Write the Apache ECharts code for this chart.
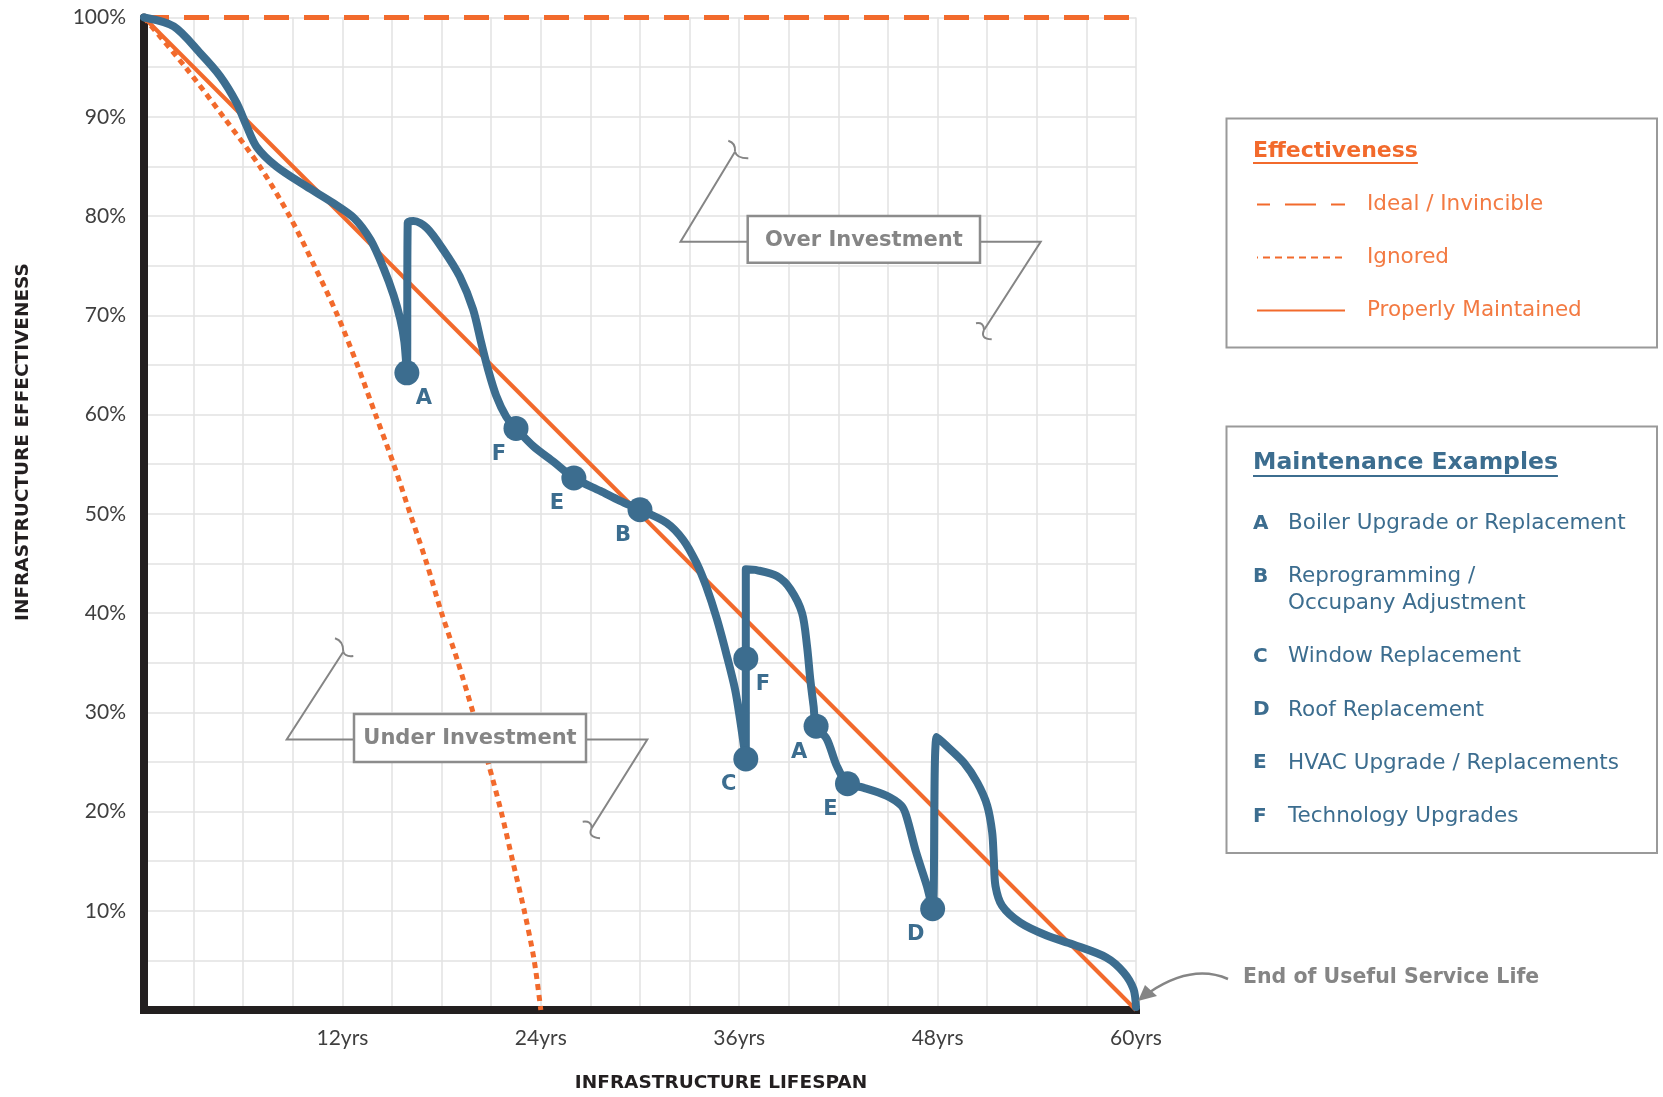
<!DOCTYPE html>
<html>
<head>
<meta charset="utf-8">
<script src="https://cdn.jsdelivr.net/npm/echarts@6/dist/echarts.min.js"></script>
<style>
  html, body { margin: 0; padding: 0; background: #ffffff; }
  #chart { width: 1663px; height: 1097px; }
</style>
</head>
<body>
<div id="chart"></div>
<script>
// ---------------- data ----------------
const yearTickLabels = [12, 24, 36, 48, 60];
const pctTickLabels = [10, 20, 30, 40, 50, 60, 70, 80, 90, 100];

const idealLine = [[0, 100], [60, 100]];
const properlyMaintained = [[0, 100], [60, 0]];
const ignoredCurve = [
  [0, 100], [2.5, 95], [4.8, 90], [7.0, 85], [8.8, 80], [10.3, 75], [11.7, 70],
  [12.9, 65], [14.0, 60], [15.1, 55], [16.1, 50], [17.1, 45], [18.0, 40], [19.0, 35],
  [19.9, 30], [20.8, 25], [21.6, 20], [22.3, 15], [23.0, 10], [23.6, 5], [24.0, 0]
];
const maintainedCurve = [
  [0, 100], [1.8, 99.1], [3.4, 96.4], [4.6, 94.1], [5.6, 91.4], [6.2, 89.1], [6.8, 87.0],
  [8.0, 85.0], [9.8, 83.0], [11.45, 81.3], [12.7, 79.8], [13.7, 77.6], [14.5, 74.7],
  [15.1, 72.0], [15.5, 69.6], [15.75, 67.3], [15.9, 64.2],
  [15.95, 79.3], [16.3, 79.5], [17.1, 78.8], [18.1, 76.6], [19.1, 73.9], [19.9, 70.6],
  [20.4, 67.2], [20.8, 64.6], [21.3, 61.9], [21.9, 59.8], [22.5, 58.6],
  [23.55, 56.8], [24.8, 55.2], [26.0, 53.6], [27.6, 52.3], [28.8, 51.3], [30.0, 50.4],
  [31.6, 49.1], [32.6, 47.4], [33.4, 45.1], [34.0, 42.7], [34.65, 39.4], [35.25, 35.7],
  [35.75, 32.3], [36.05, 29.3], [36.4, 25.3],
  [36.4, 35.4], [36.4, 44.4], [37.1, 44.3], [38.3, 43.7], [39.1, 42.4], [39.8, 40.0],
  [40.1, 36.7], [40.3, 33.3], [40.5, 30.6], [40.65, 28.6],
  [41.3, 27.3], [41.9, 24.6], [42.55, 22.8], [43.5, 22.4], [44.9, 21.6], [45.8, 20.6],
  [46.1, 19.6], [46.7, 15.9], [47.35, 12.5], [47.7, 10.2],
  [47.95, 27.5], [48.55, 26.6], [49.6, 24.9], [50.4, 22.9], [51.0, 20.6], [51.3, 17.9],
  [51.4, 15.2], [51.5, 12.5], [51.9, 10.5], [53.0, 8.8], [54.6, 7.5], [56.2, 6.6],
  [58.2, 5.3], [59.25, 3.8], [59.85, 2.1], [60, 0.3]
];
const eventCodes = ['A', 'F', 'E', 'B', 'C', 'F', 'A', 'E', 'D'];
const eventYears = [15.9, 22.5, 26.0, 30.0, 36.4, 36.4, 40.65, 42.55, 47.7];
const eventValues = [64.2, 58.6, 53.6, 50.4, 25.3, 35.4, 28.6, 22.8, 10.2];

const legendNames = ['Ideal / Invincible', 'Ignored', 'Properly Maintained'];
const exampleCodes = ['A', 'B', 'C', 'D', 'E', 'F'];
const exampleNames = [
  'Boiler Upgrade or Replacement',
  'Reprogramming /\nOccupany Adjustment',
  'Window Replacement',
  'Roof Replacement',
  'HVAC Upgrade / Replacements',
  'Technology Upgrades'
];

// ---------------- styling ----------------
const FONT = 'Lato, "Open Sans", sans-serif';
const WIDE = '"DejaVu Sans", sans-serif';
const ORANGE = '#f26a2c';
const ORANGE_TEXT = '#f37a42';
const BLUE = '#3c6d8f';
const GRAY = '#858585';
const AXIS_TEXT = '#3f3f3f';

function textWidth(str, font) {
  const c = document.createElement('canvas').getContext('2d');
  c.font = font;
  return c.measureText(str).width;
}

const chart = echarts.init(document.getElementById('chart'), null, { renderer: 'canvas' });

// labels placed to the right of the dot for these indices, left otherwise
const rightSide = new Set([0, 5]);
const eventData = eventCodes.map((c, i) => ({
  name: c,
  value: [eventYears[i], eventValues[i]],
  label: { offset: [rightSide.has(i) ? 17 : -17, -2] }
}));

// ---------------- annotations (graphic) ----------------
const graphics = [];
function polyline(points) {
  graphics.push({ type: 'polyline', z: 100, shape: { points }, style: { stroke: GRAY, lineWidth: 2, fill: null } });
}
function quad(x1, y1, cx, cy, x2, y2) {
  graphics.push({ type: 'bezierCurve', z: 100, shape: { x1, y1, x2, y2, cpx1: cx, cpy1: cy },
    style: { stroke: GRAY, lineWidth: 2, fill: null } });
}
function squiggle(a, c1, j, c2, b) {
  quad(a[0], a[1], c1[0], c1[1], j[0], j[1]);
  quad(j[0], j[1], c2[0], c2[1], b[0], b[1]);
}
function box(x1, y1, x2, y2, text) {
  graphics.push({ type: 'rect', z: 101, shape: { x: x1, y: y1, width: x2 - x1, height: y2 - y1 },
    style: { fill: '#ffffff', stroke: '#8c8c8c', lineWidth: 2.5 } });
  graphics.push({ type: 'text', z: 102, x: (x1 + x2) / 2, y: (y1 + y2) / 2 + 1,
    style: { text, fill: GRAY, font: 'bold 21px ' + WIDE, textAlign: 'center', textVerticalAlign: 'middle' } });
}
// Over Investment
polyline([[747.7, 241.7], [680.5, 241.7], [735, 151.7]]);
squiggle([728.3, 140.7], [736, 143], [735, 151.7], [737, 158.5], [748.3, 158.3]);
polyline([[980, 241.7], [1040.7, 241.7], [984, 330]]);
squiggle([976, 323.3], [984, 322], [984, 330], [980, 339], [991.7, 339.3]);
box(747.7, 216, 980, 262.7, 'Over Investment');
// Under Investment
polyline([[354, 739.5], [286.7, 739.5], [343.3, 651.7]]);
squiggle([335, 638.3], [343.5, 641], [343.3, 651.7], [345, 657], [353.3, 656]);
polyline([[586, 739.5], [647.3, 739.5], [591.7, 828.3]]);
squiggle([582.7, 821.7], [591.7, 820.5], [591.7, 828.3], [587, 837], [600, 838.3]);
box(354, 714, 586, 762, 'Under Investment');
// End of useful service life
graphics.push({ type: 'text', z: 100, x: 1243, y: 978,
  style: { text: 'End of Useful Service Life', fill: GRAY, font: 'bold 20.5px ' + WIDE, textVerticalAlign: 'middle' } });
graphics.push({ type: 'bezierCurve', z: 100,
  shape: { x1: 1228, y1: 979, cpx1: 1205, cpy1: 969, cpx2: 1180, cpy2: 972, x2: 1150, y2: 992 },
  style: { stroke: GRAY, lineWidth: 2.5, fill: null } });
graphics.push({ type: 'polygon', z: 100, shape: { points: [[1138, 1001], [1145, 985], [1157, 996]] },
  style: { fill: GRAY } });

// axis names
graphics.push({ type: 'text', z: 100, x: 721, y: 1083,
  style: { text: 'INFRASTRUCTURE LIFESPAN', fill: '#231f20', font: 'bold 18.5px ' + WIDE, textAlign: 'center', textVerticalAlign: 'middle' } });
graphics.push({ type: 'text', z: 100, x: 23, y: 442, rotation: Math.PI / 2,
  style: { text: 'INFRASTRUCTURE EFFECTIVENESS', fill: '#231f20', font: 'bold 18.5px ' + WIDE, textAlign: 'center', textVerticalAlign: 'middle' } });

// legend box 1
graphics.push({ type: 'rect', z: 90, shape: { x: 1226.5, y: 118.5, width: 430.5, height: 229 },
  style: { fill: null, stroke: '#9a9a9a', lineWidth: 2 } });
const t1Font = 'bold 22px ' + WIDE;
graphics.push({ type: 'text', z: 100, x: 1253, y: 151,
  style: { text: 'Effectiveness', fill: ORANGE, font: t1Font, textVerticalAlign: 'middle' } });
graphics.push({ type: 'line', z: 100, shape: { x1: 1253, y1: 163, x2: 1253 + textWidth('Effectiveness', t1Font), y2: 163 },
  style: { stroke: ORANGE, lineWidth: 2 } });

// legend box 2
graphics.push({ type: 'rect', z: 90, shape: { x: 1226.5, y: 426.5, width: 430.5, height: 426.5 },
  style: { fill: null, stroke: '#9a9a9a', lineWidth: 2 } });
const t2Font = 'bold 23.5px ' + WIDE;
graphics.push({ type: 'text', z: 100, x: 1253, y: 463,
  style: { text: 'Maintenance Examples', fill: BLUE, font: t2Font, textVerticalAlign: 'middle' } });
graphics.push({ type: 'line', z: 100, shape: { x1: 1253, y1: 476, x2: 1253 + textWidth('Maintenance Examples', t2Font), y2: 476 },
  style: { stroke: BLUE, lineWidth: 2 } });
let rowY = 523.3;
exampleCodes.forEach((code, i) => {
  graphics.push({ type: 'text', z: 100, x: 1253, y: rowY,
    style: { text: code, fill: BLUE, font: 'bold 20px ' + WIDE, textVerticalAlign: 'middle' } });
  graphics.push({ type: 'text', z: 100, x: 1288, y: rowY - 13.3,
    style: { text: exampleNames[i], fill: BLUE, font: '21.5px ' + WIDE, lineHeight: 26.7, textVerticalAlign: 'top' } });
  rowY += 53.3 + (exampleNames[i].split('\n').length - 1) * 26.7;
});

const option = {
  backgroundColor: '#ffffff',
  animation: false,
  grid: { left: 144, right: 527, top: 17.5, bottom: 87 },
  xAxis: {
    type: 'value', min: 0, max: 60, interval: 3,
    axisLine: { lineStyle: { color: '#231f20', width: 8, cap: 'square' } },
    axisTick: { show: false },
    axisLabel: {
      margin: 18, color: AXIS_TEXT, fontSize: 21, fontFamily: FONT,
      formatter: v => yearTickLabels.includes(v) ? v + 'yrs' : ''
    },
    splitLine: { show: true, lineStyle: { color: '#e2e2e2', width: 1.5 } }
  },
  yAxis: {
    type: 'value', min: 0, max: 100, interval: 5,
    axisLine: { show: true, lineStyle: { color: '#231f20', width: 8 } },
    axisTick: { show: false },
    axisLabel: {
      margin: 18, color: AXIS_TEXT, fontSize: 21, fontFamily: FONT,
      formatter: v => pctTickLabels.includes(v) ? v + '%' : ''
    },
    splitLine: { show: true, lineStyle: { color: '#e2e2e2', width: 1.5 } }
  },
  legend: {
    orient: 'vertical', left: 1251, top: 187.5,
    itemWidth: 88, itemHeight: 10, itemGap: 29,
    selectedMode: false,
    itemStyle: { opacity: 0 },
    textStyle: { color: ORANGE_TEXT, fontSize: 21.5, fontFamily: WIDE, lineHeight: 24, padding: [0, 0, 0, 17] },
    data: [
      { name: legendNames[0], lineStyle: { type: [31, 15], dashOffset: 18 } },
      { name: legendNames[1], lineStyle: { type: [7, 5] } },
      { name: legendNames[2] }
    ]
  },
  series: [
    {
      name: legendNames[0], type: 'line', data: idealLine, symbol: 'none', clip: false, z: 3,
      lineStyle: { color: ORANGE, width: 5, type: [25, 15] }, itemStyle: { color: ORANGE }
    },
    {
      name: legendNames[1], type: 'line', data: ignoredCurve, symbol: 'none', clip: false, smooth: 0.3, z: 3,
      lineStyle: { color: ORANGE, width: 5, type: [6, 5] }, itemStyle: { color: ORANGE }
    },
    {
      name: legendNames[2], type: 'line', data: properlyMaintained, symbol: 'none', clip: false, z: 3,
      lineStyle: { color: ORANGE, width: 4 }, itemStyle: { color: ORANGE }
    },
    {
      name: 'Maintenance', type: 'line', data: maintainedCurve, symbol: 'none', clip: false, smooth: 0.3, z: 4,
      lineStyle: { color: BLUE, width: 8, cap: 'round', join: 'round' }
    },
    {
      name: 'Events', type: 'scatter', data: eventData, symbolSize: 25, z: 5,
      itemStyle: { color: BLUE, opacity: 1 },
      label: {
        show: true, position: 'bottom', formatter: p => p.name,
        color: BLUE, fontSize: 21, fontWeight: 'bold', fontFamily: WIDE
      }
    }
  ],
  graphic: graphics
};
chart.setOption(option);
</script>
</body>
</html>
